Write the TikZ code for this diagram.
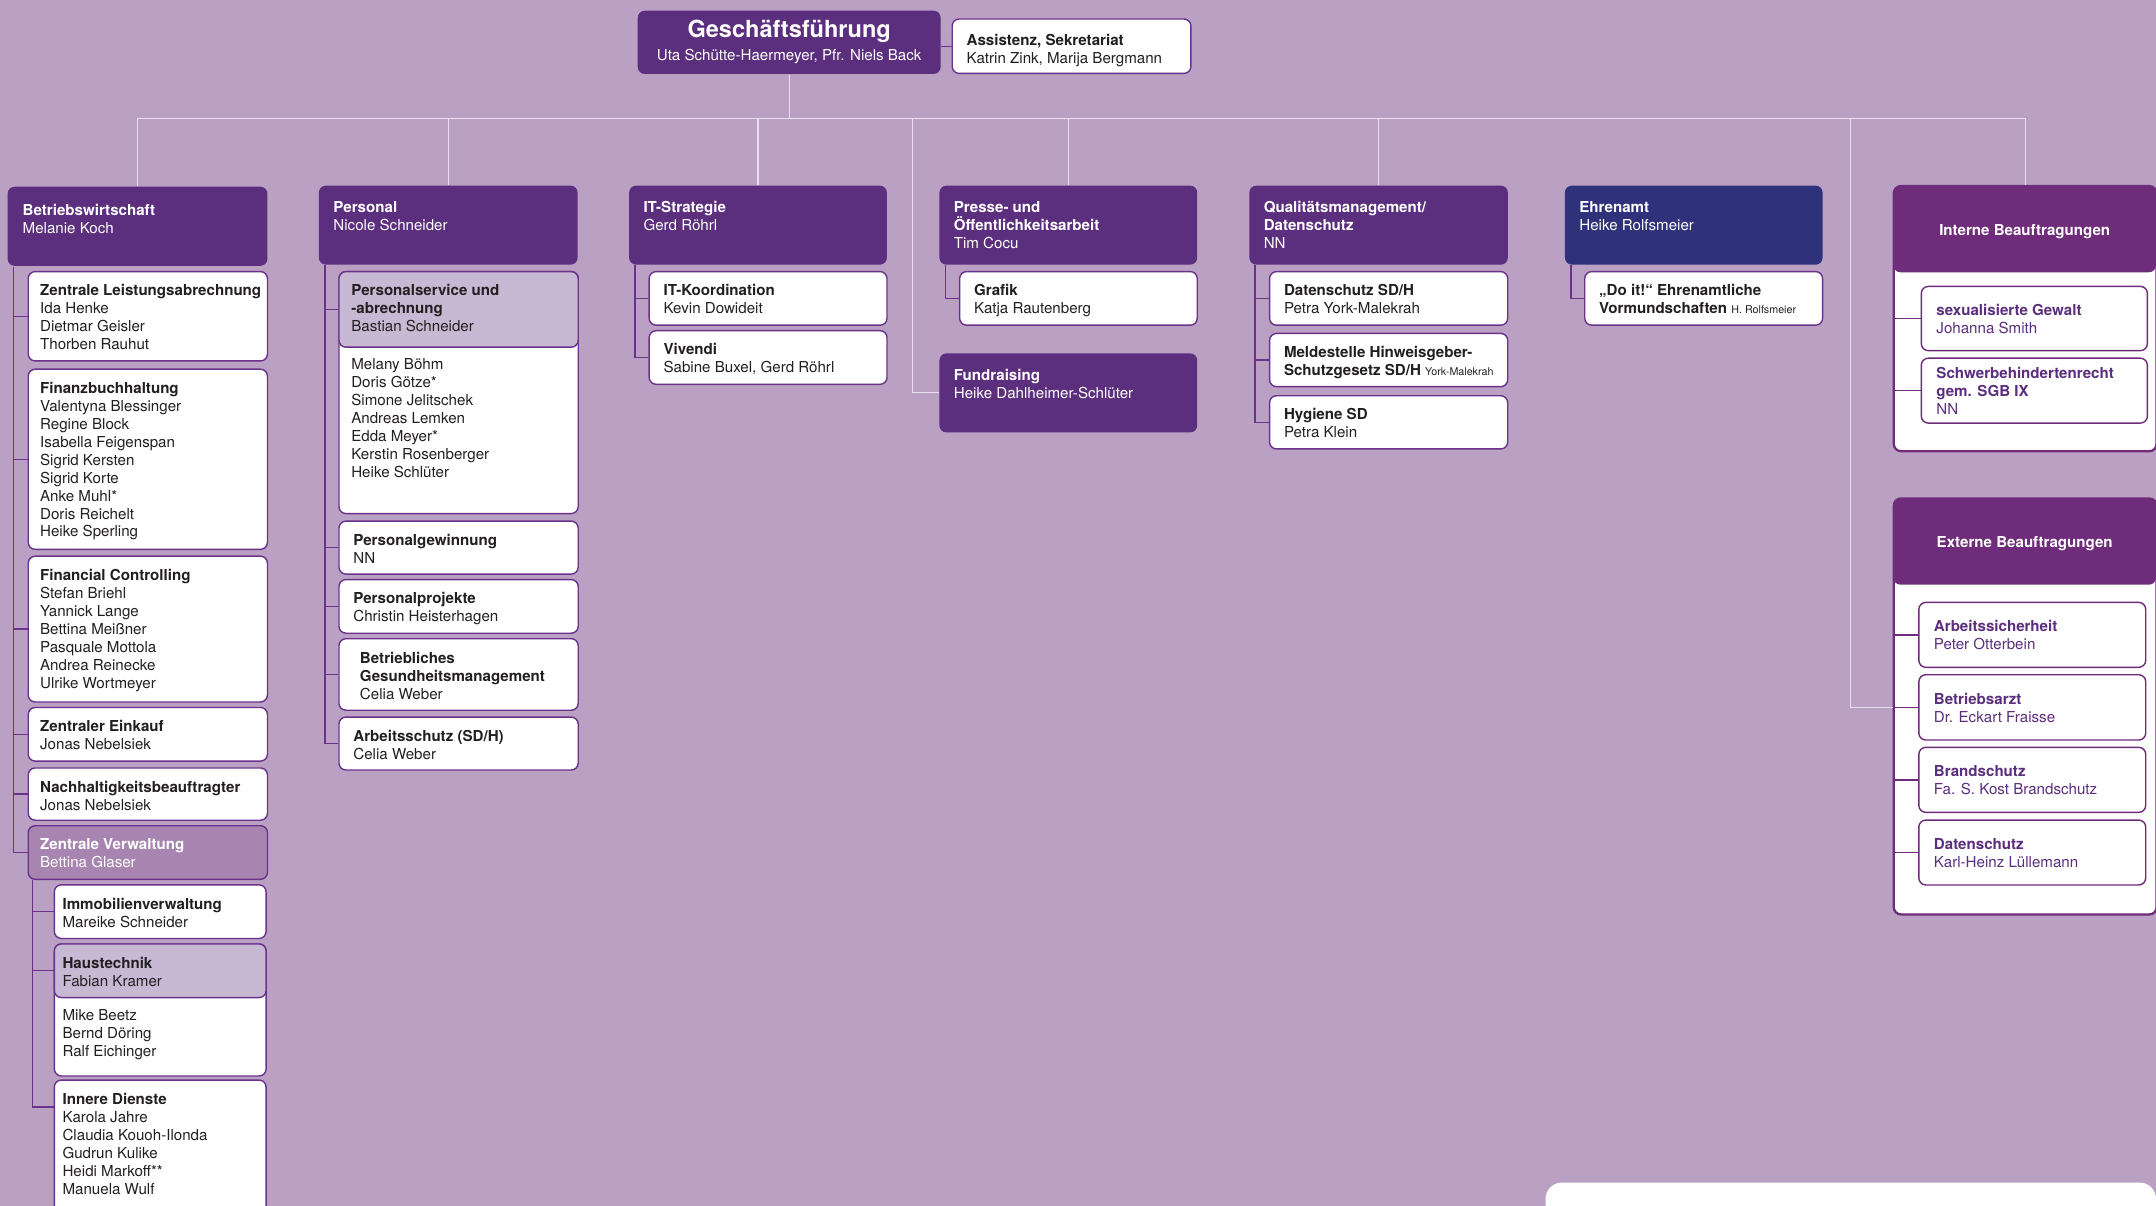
\documentclass[tikz,border=0pt]{standalone}
\usepackage{fontspec}
\setmainfont{TeX Gyre Heros}
\usetikzlibrary{calc}

\definecolor{lilac}{RGB}{186,161,196}
\definecolor{orgdark}{RGB}{92,46,126}
\definecolor{orgnavy}{RGB}{47,50,122}
\definecolor{orgplum}{RGB}{111,44,123}
\definecolor{orgmid}{RGB}{168,133,176}
\definecolor{orglight}{RGB}{199,184,212}
\definecolor{orgline}{RGB}{107,50,140}
\definecolor{treeline}{RGB}{232,224,238}
\definecolor{orgtext}{RGB}{35,31,32}

\newlength{\gu}\setlength{\gu}{0.0275cm}
\newlength{\padx}\setlength{\padx}{10.5\gu}

% box: [top offset]{name}{style}{x}{y}{width}{height}{text}
\newcommand{\orgbox}[8][9]{%
  \node[#3] (#2) at (#4,#5) {\parbox[b][#7\gu][t]{#6\gu}{\selectfont\raggedright\leftskip=\padx\vspace*{#1\gu}#8}};}
\newcommand{\addname}[1]{{\fontsize{6.1}{7}\selectfont #1}}

\tikzset{
  unit/.style={inner sep=0pt, anchor=north west, rounded corners=0.14cm, line width=0.8pt},
  head/.style={unit, fill=orgdark, text=white},
  ehead/.style={unit, fill=orgnavy, text=white},
  sub/.style={unit, draw=orgline, fill=white, text=orgtext},
  subhd/.style={unit, draw=orgline, fill=orglight, text=orgtext},
  zvbox/.style={unit, draw=orgline, fill=orgmid, text=white},
  bframe/.style={unit, draw=orgplum, line width=1.3pt, fill=white},
  bhead/.style={unit, fill=orgplum, text=white},
  bsub/.style={unit, draw=orgplum, fill=white, text=orgdark},
  tree/.style={draw=treeline, line width=0.6pt},
  link/.style={draw=orgline, line width=0.75pt},
  blink/.style={draw=orgplum, line width=0.75pt}
}

\begin{document}
\begin{tikzpicture}[x=0.0275cm, y=-0.0275cm, font=\fontsize{8.6}{10.2}\selectfont]
    \useasboundingbox (0,0) rectangle (1568,877);
    \clip (0,0) rectangle (1568,877);
    \fill[lilac] (0,0) rectangle (1568,877);
    \fill[white, rounded corners=0.33cm] (1124,860) rectangle (1568,920);

    % top
    \orgbox[7]{gf}{head}{463.3}{7.3}{220.3}{46}{\centering{\fontsize{13.4}{15}\selectfont\bfseries Geschäftsführung\par}\vspace{2.5pt}Uta Schütte-Haermeyer, Pfr. Niels Back}
    \orgbox[11]{ass}{sub}{692}{13.3}{173.6}{39.6}{\textbf{Assistenz, Sekretariat}\\Katrin Zink, Marija Bergmann}
    \draw[link] (gf.east |- ass.west) -- (ass.west);

    % Betriebswirtschaft
    \setlength{\padx}{11\gu}
    \orgbox[12.5]{bwl}{head}{5}{135.3}{189}{57.5}{\textbf{Betriebswirtschaft}\\Melanie Koch}
    \setlength{\padx}{8.7\gu}
    \orgbox[9.5]{zla}{sub}{20}{197}{174}{65}{\textbf{Zentrale Leistungsabrechnung}\\Ida Henke\\Dietmar Geisler\\Thorben Rauhut}
    \orgbox[9.5]{fibu}{sub}{20}{268}{174}{131}{\textbf{Finanzbuchhaltung}\\Valentyna Blessinger\\Regine Block\\Isabella Feigenspan\\Sigrid Kersten\\Sigrid Korte\\Anke Muhl*\\Doris Reichelt\\Heike Sperling}
    \orgbox[9.5]{fc}{sub}{20}{404}{174}{106}{\textbf{Financial Controlling}\\Stefan Briehl\\Yannick Lange\\Bettina Meißner\\Pasquale Mottola\\Andrea Reinecke\\Ulrike Wortmeyer}
    \orgbox[9.5]{ek}{sub}{20}{514}{174}{39}{\textbf{Zentraler Einkauf}\\Jonas Nebelsiek}
    \orgbox[9.5]{nh}{sub}{20}{558}{174}{38}{\textbf{Nachhaltigkeitsbeauftragter}\\Jonas Nebelsiek}
    \orgbox[9.5]{zv}{zvbox}{20}{600}{174}{39}{\textbf{Zentrale Verwaltung}\\Bettina Glaser}
    \setlength{\padx}{6\gu}
    \orgbox[9.5]{immo}{sub}{39}{643}{154}{39}{\textbf{Immobilienverwaltung}\\Mareike Schneider}
    \orgbox[48]{haus}{sub}{39}{686}{154}{96}{Mike Beetz\\Bernd Döring\\Ralf Eichinger}
    \orgbox[9.5]{haushd}{subhd}{39}{686}{154}{39}{\textbf{Haustechnik}\\Fabian Kramer}
    \orgbox[9.5]{innere}{sub}{39}{785}{154}{108}{\textbf{Innere Dienste}\\Karola Jahre\\Claudia Kouoh-Ilonda\\Gudrun Kulike\\Heidi Markoff**\\Manuela Wulf}

    \draw[link] ($(bwl.south west)+(5,0)$) |- (zla.west);
    \draw[link] ($(bwl.south west)+(5,0)$) |- (fibu.west);
    \draw[link] ($(bwl.south west)+(5,0)$) |- (fc.west);
    \draw[link] ($(bwl.south west)+(5,0)$) |- (ek.west);
    \draw[link] ($(bwl.south west)+(5,0)$) |- (nh.west);
    \draw[link] ($(bwl.south west)+(5,0)$) |- (zv.west);
    \draw[link] ($(zv.south west)+(3.5,0)$) |- (immo.west);
    \draw[link] ($(zv.south west)+(3.5,0)$) |- (haushd.west);
    \draw[link] ($(zv.south west)+(3.5,0)$) |- ($(innere.north west)+(0,20)$);

    % Personal
    \setlength{\padx}{10.6\gu}
    \orgbox[11.5]{pers}{head}{231.4}{134.5}{188.2}{57.5}{\textbf{Personal}\\Nicole Schneider}
    \setlength{\padx}{9\gu}
    \orgbox[63.4]{psv}{sub}{246}{197}{174}{176}{Melany Böhm\\Doris Götze*\\Simone Jelitschek\\Andreas Lemken\\Edda Meyer*\\Kerstin Rosenberger\\Heike Schlüter}
    \orgbox[9]{psvhd}{subhd}{246}{197}{174}{55}{\textbf{Personalservice und}\\\textbf{-abrechnung}\\Bastian Schneider}
    \setlength{\padx}{10.5\gu}
    \orgbox[9.5]{pgw}{sub}{246}{378.5}{174}{38.5}{\textbf{Personalgewinnung}\\NN}
    \orgbox[9.5]{ppr}{sub}{246}{421}{174}{39}{\textbf{Personalprojekte}\\Christin Heisterhagen}
    \setlength{\padx}{15.3\gu}
    \orgbox[10]{bgm}{sub}{246}{464}{174}{52}{\textbf{Betriebliches}\\\textbf{Gesundheitsmanagement}\\Celia Weber}
    \setlength{\padx}{10.5\gu}
    \orgbox[9.5]{asch}{sub}{246}{521}{174}{38.5}{\textbf{Arbeitsschutz (SD/H)}\\Celia Weber}

    \draw[link] ($(pers.south west)+(5,0)$) |- (psvhd.west);
    \draw[link] ($(pers.south west)+(5,0)$) |- (pgw.west);
    \draw[link] ($(pers.south west)+(5,0)$) |- (ppr.west);
    \draw[link] ($(pers.south west)+(5,0)$) |- (bgm.west);
    \draw[link] ($(pers.south west)+(5,0)$) |- (asch.west);

    % IT, Presse, Fundraising
    \orgbox[11.5]{its}{head}{457}{134.5}{187.5}{57.5}{\textbf{IT-Strategie}\\Gerd Röhrl}
    \orgbox[9]{itk}{sub}{471.6}{197}{173}{39}{\textbf{IT-Koordination}\\Kevin Dowideit}
    \orgbox[9]{viv}{sub}{471.6}{240}{173}{39}{\textbf{Vivendi}\\Sabine Buxel, Gerd Röhrl}
    \draw[link] ($(its.south west)+(4.8,0)$) |- (itk.west);
    \draw[link] ($(its.south west)+(4.8,0)$) |- (viv.west);

    \orgbox[11.5]{pr}{head}{682.7}{134.5}{187.5}{57.5}{\textbf{Presse- und}\\\textbf{Öffentlichkeitsarbeit}\\Tim Cocu}
    \orgbox[9]{graf}{sub}{697.4}{197}{172.8}{39}{\textbf{Grafik}\\Katja Rautenberg}
    \draw[link] ($(pr.south west)+(4.9,0)$) |- (graf.west);
    \orgbox[11.4]{fund}{head}{682.7}{256.5}{187.5}{57.5}{\textbf{Fundraising}\\Heike Dahlheimer-Schlüter}

    % QM, Ehrenamt
    \orgbox[11.5]{qm}{head}{908.1}{134.5}{188}{57.5}{\textbf{Qualitätsmanagement/}\\\textbf{Datenschutz}\\NN}
    \orgbox[9]{dsq}{sub}{922.8}{197}{173.2}{39}{\textbf{Datenschutz SD/H}\\Petra York-Malekrah}
    \orgbox[9.6]{mel}{sub}{922.8}{242}{173.2}{38.7}{\textbf{Meldestelle Hinweisgeber-}\\\textbf{Schutzgesetz SD/H} \addname{York-Malekrah}}
    \orgbox[9]{hyg}{sub}{922.8}{287.3}{173.2}{38.7}{\textbf{Hygiene SD}\\Petra Klein}
    \draw[link] ($(qm.south west)+(4.6,0)$) |- (dsq.west);
    \draw[link] ($(qm.south west)+(4.6,0)$) |- (mel.west);
    \draw[link] ($(qm.south west)+(4.6,0)$) |- (hyg.west);

    \orgbox[11.5]{ehr}{ehead}{1137.6}{134.5}{187.4}{57.5}{\textbf{Ehrenamt}\\Heike Rolfsmeier}
    \orgbox[9]{doit}{sub}{1152}{197}{173}{39}{\textbf{„Do it!“ Ehrenamtliche}\\\textbf{Vormundschaften} \addname{H. Rolfsmeier}}
    \draw[link] ($(ehr.south west)+(4.9,0)$) |- (doit.west);

    % Beauftragungen
    \setlength{\padx}{11\gu}
    \orgbox{intb}{bframe}{1376.5}{134.5}{191}{192.8}{\mbox{}}
    \orgbox[28.5]{inthd}{bhead}{1376.5}{134.5}{191}{63}{\centering\textbf{Interne Beauftragungen}}
    \orgbox[12.8]{sgw}{bsub}{1396.8}{207.8}{164.4}{46.7}{\textbf{sexualisierte Gewalt}\\Johanna Smith}
    \orgbox[6.7]{sbr}{bsub}{1396.8}{260}{164.4}{47.2}{\textbf{Schwerbehindertenrecht}\\\textbf{gem. SGB IX}\\NN}
    \draw[blink] (sgw.west -| intb.west) -- (sgw.west);
    \draw[blink] (sbr.west -| intb.west) -- (sbr.west);

    \orgbox{extb}{bframe}{1376.5}{361.7}{191}{302.5}{\mbox{}}
    \orgbox[28]{exthd}{bhead}{1376.5}{361.7}{191}{63}{\centering\textbf{Externe Beauftragungen}}
    \orgbox[13.3]{asi}{bsub}{1395}{437.6}{165}{47.2}{\textbf{Arbeitssicherheit}\\Peter Otterbein}
    \orgbox[13.3]{bea}{bsub}{1395}{490.2}{165}{47.5}{\textbf{Betriebsarzt}\\Dr. Eckart Fraisse}
    \orgbox[13.3]{brs}{bsub}{1395}{543}{165}{47.3}{\textbf{Brandschutz}\\Fa. S. Kost Brandschutz}
    \orgbox[13.3]{dsx}{bsub}{1395}{595.9}{165}{47.2}{\textbf{Datenschutz}\\Karl-Heinz Lüllemann}
    \draw[blink] (asi.west -| extb.west) -- (asi.west);
    \draw[blink] (bea.west -| extb.west) -- (bea.west);
    \draw[blink] (brs.west -| extb.west) -- (brs.west);
    \draw[blink] (dsx.west -| extb.west) -- (dsx.west);

    % tree
    \coordinate (bar) at ($(gf.south)+(0,32)$);
    \draw[tree] (gf.south) -- (bar);
    \draw[tree] (bar) -| (bwl.north);
    \draw[tree] (bar) -| (pers.north);
    \draw[tree] (bar) -| (its.north);
    \draw[tree] (bar) -| ($(fund.west)+(-19,0)$) -- (fund.west);
    \draw[tree] (bar) -| (pr.north);
    \draw[tree] (bar) -| (qm.north);
    \draw[tree] (bar) -| ($(bea.west)+(-49,0)$) -- (bea.west -| extb.west);
    \draw[tree] (bar) -| (intb.north);
\end{tikzpicture}
\end{document}
